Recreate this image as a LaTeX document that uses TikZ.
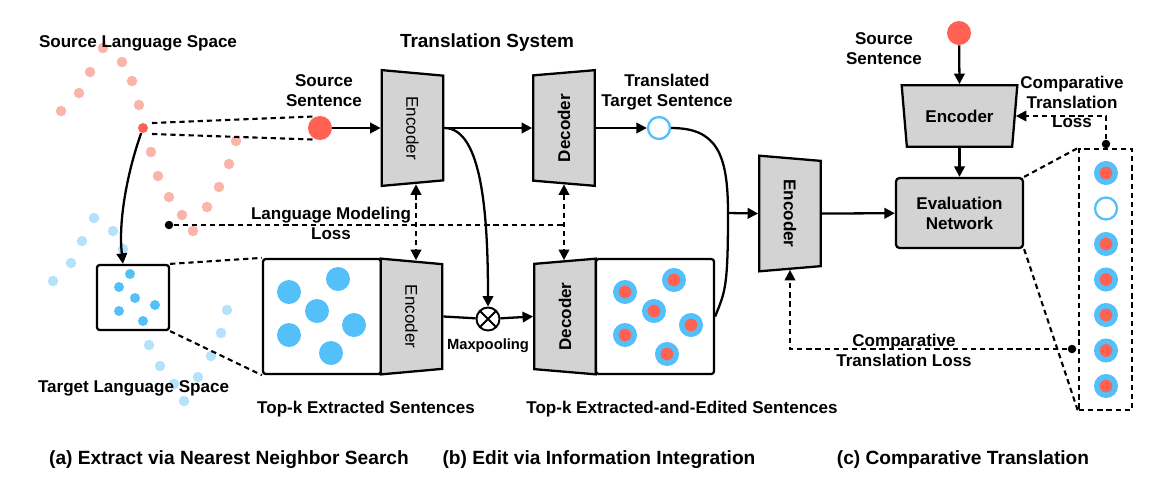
\documentclass[tikz,border=0pt]{standalone}
\usepackage{fontspec}
\setmainfont{Liberation Sans}
\usepackage{graphicx}
\usetikzlibrary{shapes.geometric, arrows.meta, positioning}
\definecolor{sentred}{RGB}{255,98,82}
\definecolor{sentblue}{RGB}{84,192,250}
\definecolor{palered}{RGB}{250,180,170}
\definecolor{paleblue}{RGB}{180,226,251}
\definecolor{boxgray}{RGB}{211,211,211}
\tikzset{
  lbl/.style      = {align=center, inner sep=0pt, font=\fontsize{9.7}{11.3}\selectfont\bfseries},
  subcap/.style   = {inner sep=0pt, font=\fontsize{10.9}{13}\selectfont\bfseries},
  coder/.style    = {trapezium, draw, fill=boxgray, line width=1.3pt, trapezium angle=75,
                     trapezium stretches=true, minimum width=2.32cm, minimum height=1.23cm,
                     inner sep=0pt, font=\fontsize{9.7}{11.3}\selectfont\bfseries},
  encoder/.style  = {coder, shape border rotate=270},
  decoder/.style  = {coder, shape border rotate=90},
  grayblock/.style= {rectangle, draw, fill=boxgray, line width=1.3pt, rounded corners=2pt,
                     align=center, font=\fontsize{9.7}{11.3}\selectfont\bfseries},
  plainbox/.style = {rectangle, draw, line width=1.3pt, rounded corners=1.5pt},
  sentence/.style = {circle, fill=sentred, inner sep=0pt, minimum size=0.48cm},
  hollow/.style   = {circle, draw=sentblue, fill=white, line width=1.3pt, inner sep=0pt, minimum size=0.44cm},
  edited/.style   = {circle, fill=sentred, draw=sentblue, line width=3.1pt, inner sep=0pt, minimum size=0.37cm},
  bigdot/.style   = {circle, fill=sentblue, inner sep=0pt, minimum size=0.48cm},
  tdot/.style     = {circle, fill=sentblue, inner sep=0pt, minimum size=0.2cm},
  srcdot/.style   = {circle, fill=palered, inner sep=0pt, minimum size=0.21cm},
  tgtdot/.style   = {circle, fill=paleblue, inner sep=0pt, minimum size=0.21cm},
  endpt/.style    = {circle, fill=black, inner sep=0pt, minimum size=0.17cm},
  pooling/.style  = {circle, draw, line width=1.1pt, inner sep=0pt, minimum size=0.46cm,
                     path picture={\draw[line width=1.1pt]
                       (path picture bounding box.north west) -- (path picture bounding box.south east)
                       (path picture bounding box.north east) -- (path picture bounding box.south west);}},
  line/.style     = {line width=1.3pt},
  arrow/.style    = {line, ->, >={Triangle[length=6pt,width=6pt]}},
  dashline/.style = {line width=1.2pt, dash pattern=on 3pt off 2.2pt, >={Triangle[length=6pt,width=6pt]}}
}

\begin{document}
\begin{tikzpicture}[x=0.02cm, y=-0.02cm]
  \useasboundingbox (0,0) rectangle (1173,478);

  % Language spaces
  \foreach \x/\y [count=\i] in {103/48,122/62,90/72,132/81,79/93,139/105,61/111,151/152,236/141,
      158/176,229/164,169/197,219/187,182/215,207/207,193/231}
    \node[srcdot] (sd\i) at (\x,\y) {};
  \foreach \x/\y [count=\i] in {94/218,113/231,82/241,123/249,71/263,53/281,227/310,221/333,
      149/345,211/356,160/366,198/377,174/384,184/401}
    \node[tgtdot] (tg\i) at (\x,\y) {};
  \node[lbl] (srcspace) at (138,43)   {Source Language Space};
  \node[lbl] (tgtspace) at (133.5,388) {Target Language Space};
  \node[circle, fill=sentred, inner sep=0pt, minimum size=0.2cm] (srcpt) at (143,128) {};

  % Nearest neighbours
  \node[plainbox, minimum width=1.44cm, minimum height=1.3cm] (nbox) at (133,297.5) {};
  \foreach \x/\y [count=\i] in {130/274,119/287,135/298,155/305,119/311,143/321}
    \node[tdot] (nn\i) at (\x,\y) {};

  % Translation system
  \node[lbl, font=\fontsize{10.8}{13}\selectfont\bfseries] (tsys) at (487,43) {Translation System};
  \node[sentence] (srcS) at (320,128) {};
  \node[lbl] (srcSlbl) at (324,91) {Source\\Sentence};
  \node[encoder, font=\fontsize{9.7}{11.3}\selectfont] (enc1) at (412.5,128) {\rotatebox{-90}{Encoder}};
  \node[decoder] (dec1) at (564,128) {\rotatebox{90}{Decoder}};
  \node[hollow] (tgt) at (659,128) {};
  \node[lbl] (tgtlbl) at (667,92) {Translated\\Target Sentence};

  % Extracted and edited sentences
  \node[plainbox, minimum width=2.36cm, minimum height=2.3cm] (ext) at (322,316.5) {};
  \foreach \x/\y [count=\i] in {289/292,338/279,317/311,354/325,289/335,331/353}
    \node[bigdot] (ex\i) at (\x,\y) {};
  \node[encoder, font=\fontsize{9.7}{11.3}\selectfont] (enc2) at (411.5,316.5) {\rotatebox{-90}{Encoder}};
  \node[pooling] (mp) at (488,319) {};
  \node[lbl, font=\fontsize{8.4}{10}\selectfont\bfseries] (mplbl) at (488,346) {Maxpooling};
  \node[decoder] (dec2) at (565,316.5) {\rotatebox{90}{Decoder}};
  \node[plainbox, minimum width=2.36cm, minimum height=2.3cm] (edt) at (655,316.5) {};
  \foreach \x/\y [count=\i] in {625/292,674/280,654/311,691/325,625/335,667/354}
    \node[edited] (ed\i) at (\x,\y) {};
  \node[lbl] (extlbl) at (366,409) {Top-k Extracted Sentences};
  \node[lbl] (edtlbl) at (682,409) {Top-k Extracted-and-Edited Sentences};
  \node[endpt] (lmdot) at (169,225) {};
  \node[lbl] (lmlbl) at (331,223) {Language Modeling\\Loss};

  % Comparative translation
  \node[encoder] (enc3) at (790,213.5) {\rotatebox{-90}{Encoder}};
  \node[grayblock, minimum width=2.54cm, minimum height=1.4cm] (eval) at (959.5,213) {Evaluation\\Network};
  \node[coder, shape border rotate=180] (encC) at (959.5,116) {Encoder};
  \node[sentence] (srcC) at (959,33) {};
  \node[lbl] (srcClbl) at (884,48.5) {Source\\Sentence};
  \node[plainbox, dashline, rounded corners=0pt, minimum width=1.06cm, minimum height=5.22cm] (cands) at (1105.5,279.5) {};
  \foreach \y [count=\i] in {173,244,279.5,315,350.5,386}
    \node[edited] (cd\i) at (1106,\y) {};
  \node[hollow] (cdT) at (1106,208.5) {};
  \node[endpt] (ctlA) at (1106,144) {};
  \node[endpt] (ctlB) at (1072,349) {};
  \node[lbl] (ctlAlbl) at (1072,102) {Comparative\\Translation\\Loss};
  \node[lbl] (ctlBlbl) at (904,350) {Comparative\\Translation Loss};
  \coordinate (merge) at (728,213);

  % Sub-captions
  \node[subcap] (capA) at (229,460) {(a) Extract via Nearest Neighbor Search};
  \node[subcap] (capB) at (599,460) {(b) Edit via Information Integration};
  \node[subcap] (capC) at (963,460) {(c) Comparative Translation};

  % Arrows - extraction
  \draw[dashline] ([shift={(9,-5)}]srcpt.center) -- (srcS.110);
  \draw[dashline] ([shift={(9,6)}]srcpt.center) -- (srcS.250);
  \draw[arrow] (srcpt) .. controls (128,170) and (118,220) .. ([xshift=-0.2cm]nbox.north);
  \draw[dashline] (nbox.north east) -- (ext.north west);
  \draw[dashline] (nbox.south east) -- (ext.south west);
  % Arrows - translation and editing
  \draw[arrow] (srcS) -- (enc1.bottom side);
  \draw[arrow] (enc1.top side) -- (dec1.top side);
  \draw[arrow] (dec1.bottom side) -- (tgt);
  \draw[arrow] (enc1.top side) .. controls +(38,0) and +(0,-90) .. (mp.north);
  \draw[line] (enc2.top side) -- (mp);
  \draw[arrow] (mp) -- (dec2.top side);
  \draw[dashline] (lmdot) -- (lmdot -| dec1.left side);
  \draw[dashline, <->] ([xshift=0.07cm]enc1.right side) -- ([xshift=0.07cm]enc1.right side |- enc2.left side);
  \draw[dashline, <->] (dec1.left side) -- (dec1.left side |- dec2.right side);
  % Arrows - comparison
  \draw[line] (tgt.east) .. controls +(45,0) and +(0,-60) .. (merge)
              .. controls +(0,75) and +(10,-25) .. (edt.east);
  \draw[arrow] (merge) -- (enc3.bottom side);
  \draw[arrow] (enc3.top side) -- (eval);
  \draw[arrow] (srcC) -- (encC.bottom side);
  \draw[arrow] (encC.top side) -- (eval);
  \draw[dashline] (eval.north east) -- (cands.north west);
  \draw[dashline] (eval.south east) -- (cands.south west);
  \draw[dashline, ->] (ctlA) |- (encC.left side);
  \draw[dashline, ->] (ctlB) -| (enc3.right side);
\end{tikzpicture}
\end{document}
